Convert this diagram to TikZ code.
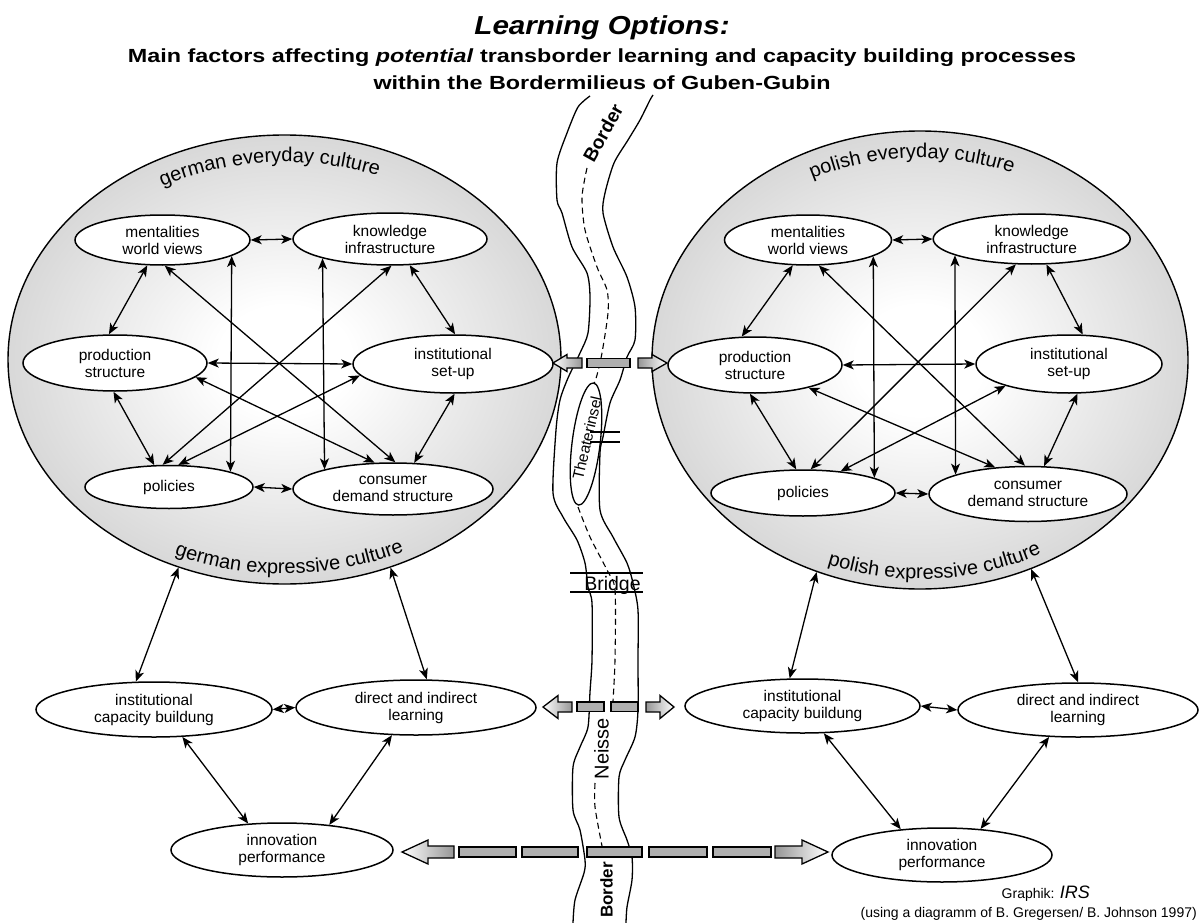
\documentclass[tikz,border=0pt]{standalone}
\usepackage{fontspec}
\setmainfont{Liberation Sans}
\newfontfamily\titlefam[FakeStretch=1.14]{Liberation Sans}
\newfontfamily\subfam[FakeStretch=1.23]{Liberation Sans}
\usetikzlibrary{shapes.geometric,arrows.meta,decorations.text}
\definecolor{shgray}{RGB}{198,198,198}
\definecolor{bargray}{RGB}{175,175,175}
\definecolor{arrgray}{RGB}{150,150,150}
\pgfdeclareradialshading{circshade}{\pgfpoint{0bp}{0bp}}{color(0bp)=(white); color(6bp)=(white); color(34bp)=(shgray); color(50bp)=(shgray)}
\newcommand\nodefont{\fontsize{15.5}{17}\selectfont}
\newcommand\culfont{\fontsize{20}{20}\selectfont}
\begin{document}
\begin{tikzpicture}[x=1pt,y=-1pt,
  fac/.style={ellipse, draw, fill=white, line width=1.5pt, inner sep=0pt, align=center, font=\nodefont},
  milieu/.style={ellipse, draw, line width=1.4pt, shade, shading=circshade, inner sep=0pt},
  arr/.style={line width=1.3pt, {Stealth[length=11pt,width=9pt,inset=3pt]}-{Stealth[length=11pt,width=9pt,inset=3pt]}},
  bank/.style={line width=1.3pt},
  borderline/.style={line width=1.1pt, dash pattern=on 6pt off 4pt},
  barbox/.style={draw, line width=1.3pt, fill=bargray},
  blockL/.style={draw, line width=1.3pt, left color=white, right color=arrgray},
  blockR/.style={draw, line width=1.3pt, left color=arrgray, right color=white},
  culture/.style={decorate, decoration={text along path, text align=center, text={|\culfont|#1}}}
]
\fill[white] (0,0) rectangle (1202,923);
\useasboundingbox (0,0) rectangle (1202,923);

% titles
\node[anchor=base, font=\titlefam\bfseries\itshape\fontsize{26}{26}\selectfont] (title) at (602,35) {Learning Options:};
\node[anchor=base, font=\subfam\bfseries\fontsize{19}{19}\selectfont] (sub1) at (602,63) {Main factors affecting \textit{potential} transborder learning and capacity building processes};
\node[anchor=base, font=\subfam\bfseries\fontsize{19}{19}\selectfont] (sub2) at (602,90) {within the Bordermilieus of Guben-Gubin};

% milieus
\node[milieu, minimum width=553, minimum height=449] (G) at (284.5,359.5) {};
\node[milieu, minimum width=536, minimum height=458] (P) at (920,360) {};

\path[culture={german everyday culture}] (110.4,216.9) arc[start angle=-133.8, end angle=-53.8, x radius=251.5, y radius=197.5];
\path[culture={german expressive culture}] (99,514) arc[start angle=133.8, end angle=43.8, x radius=268, y radius=214];
\path[culture={polish everyday culture}] (757.1,210.1) arc[start angle=-132.1, end angle=-52.1, x radius=243, y radius=202];
\path[culture={polish expressive culture}] (748.4,524.5) arc[start angle=131.3, end angle=41.3, x radius=260, y radius=219];

% river
\draw[bank] plot[smooth, tension=0.45] coordinates {(590,96) (578,107) (567,133) (557,163) (557,200) (562,213) (572,247) (587,273) (590,297) (588,333) (580,353) (568,378) (560,400) (556,430) (553,493) (563,517) (577,540) (585,563) (588,587) (592,603) (592,660) (590,692) (588,727) (580,747) (573,767) (573,810) (580,830) (585,860) (584,873) (575,900) (573,923)};
\draw[bank] plot[smooth, tension=0.45] coordinates {(653,95) (650,100) (640,120) (628,140) (614,163) (605,193) (603,213) (613,247) (627,277) (635,307) (635,340) (627,357) (620,380) (610,403) (603,437) (600,453) (600,510) (613,537) (627,563) (633,583) (638,610) (638,660) (638,710) (635,737) (625,760) (619,777) (619,817) (627,840) (632,857) (632,880) (627,907) (626,923)};
\draw[borderline] plot[smooth, tension=0.45] coordinates {(587,168) (582,197) (585,230) (597,267) (607,290) (608,313) (602,353) (597,375) (594,384)};
\draw[borderline] plot[smooth, tension=0.45] coordinates {(578,507) (590,537) (607,570) (615,590) (615,660) (613,701)};
\draw[borderline] plot[smooth, tension=0.45] coordinates {(595,783) (595,807) (602,846)};

\node[rotate=61, font=\bfseries\fontsize{19}{19}\selectfont] (border1) at (603,133) {Border};
\node[rotate=90, font=\bfseries\fontsize{17}{17}\selectfont] (border2) at (606.5,890) {Border};
\node[rotate=90, font=\fontsize{20}{20}\selectfont] (neisse) at (601.5,748.5) {Neisse};

% Theaterinsel
\draw[line width=1.3pt, rotate around={83:(586,444)}] (586,444) ellipse [x radius=61.5, y radius=14];
\node[rotate=77, font=\nodefont] (insel) at (587,438) {Theaterinsel};
\draw[line width=1.2pt] (590,432) -- (620,432);
\draw[line width=1.2pt] (590,442) -- (620,442);

% Bridge
\draw[line width=1.2pt] (570,573) -- (643,573);
\draw[line width=1.2pt] (570,592) -- (643,592);
\node[anchor=base, font=\fontsize{19.5}{19.5}\selectfont, inner sep=0pt] (bridge) at (612.5,590.5) {Bridge};

% block arrows row 1
\path[blockL] (553,363) -- (567,354.5) -- (567,358) -- (582,358) -- (582,368) -- (567,368) -- (567,371.5) -- cycle;
\path[barbox] (587,358.5) rectangle (630,367.5);
\path[blockR] (638,358) -- (652,358) -- (652,354.5) -- (667,363) -- (652,371.5) -- (652,368) -- (638,368) -- cycle;
% row 2
\path[blockL] (543,707) -- (558,695.5) -- (558,702) -- (572,702) -- (572,712) -- (558,712) -- (558,718.5) -- cycle;
\path[barbox] (577,702) rectangle (604,711.5);
\path[barbox] (611,702) rectangle (638,711.5);
\path[blockR] (646,702) -- (660,702) -- (660,695.5) -- (674,707) -- (660,718.5) -- (660,712) -- (646,712) -- cycle;
% row 3
\path[blockL] (402,852) -- (428,840) -- (428,846) -- (454,846) -- (454,858) -- (428,858) -- (428,864) -- cycle;
\path[barbox] (459,847) rectangle (516,857);
\path[barbox] (522,847) rectangle (578,857);
\path[barbox] (587,847) rectangle (642,857);
\path[barbox] (649,847) rectangle (707,857);
\path[barbox] (713,847) rectangle (771,857);
\path[blockR] (775,846) -- (802,846) -- (802,840) -- (828,852) -- (802,864) -- (802,858) -- (775,858) -- cycle;

% left factor nodes
\node[fac, minimum width=175, minimum height=50] (m1) at (162.5,240) {mentalities\\world views};
\node[fac, minimum width=194, minimum height=52] (k1) at (390,239) {knowledge\\infrastructure};
\node[fac, minimum width=184, minimum height=56] (p1) at (115,363) {production\\structure};
\node[fac, minimum width=200, minimum height=58] (i1) at (453,364) {institutional\\set-up};
\node[fac, minimum width=168, minimum height=43] (po1) at (169,487) {policies};
\node[fac, minimum width=200, minimum height=52] (c1) at (393,489) {consumer\\demand structure};
% right factor nodes
\node[fac, minimum width=167, minimum height=50] (m2) at (808,240) {mentalities\\world views};
\node[fac, minimum width=197, minimum height=50] (k2) at (1031.7,239) {knowledge\\infrastructure};
\node[fac, minimum width=174, minimum height=56] (p2) at (755,365) {production\\structure};
\node[fac, minimum width=186, minimum height=58] (i2) at (1069,364) {institutional\\set-up};
\node[fac, minimum width=184, minimum height=46] (po2) at (803,493) {policies};
\node[fac, minimum width=198, minimum height=55] (c2) at (1028,494) {consumer\\demand structure};
% bottom nodes
\node[fac, minimum width=236, minimum height=55] (ic1) at (154,709.5) {institutional\\capacity buildung};
\node[fac, minimum width=240, minimum height=55] (dl1) at (416,707.5) {direct and indirect\\learning};
\node[fac, minimum width=222, minimum height=54] (ip1) at (282,850) {innovation\\performance};
\node[fac, minimum width=235, minimum height=54] (ic2) at (802.5,706) {institutional\\capacity buildung};
\node[fac, minimum width=240, minimum height=54] (dl2) at (1078,710) {direct and indirect\\learning};
\node[fac, minimum width=220, minimum height=54] (ip2) at (942,855) {innovation\\performance};

% left connectors
\draw[arr] (m1.east) -- (k1.west);
\draw[arr] (m1.239.4) -- (p1.102.1);
\draw[arr] (m1.-13.6) -- (po1.14);
\draw[arr] (m1.275.7) -- (c1.85.8);
\draw[arr] (k1.196.1) -- (c1.164.8);
\draw[arr] (k1.273.7) -- (po1.106.1);
\draw[arr] (k1.307.6) -- (i1.86.5);
\draw[arr] (p1.east) -- (i1.west);
\draw[arr] (p1.-10.8) -- (c1.125);
\draw[arr] (i1.187.6) -- (po1.67.8);
\draw[arr] (p1.267.1) -- (po1.124.4);
\draw[arr] (i1.273.3) -- (c1.51.1);
\draw[arr] (po1.east) -- (c1.west);
% right connectors
\draw[arr] (m2.east) -- (k2.west);
\draw[arr] (m2.239.2) -- (p2.115.5);
\draw[arr] (m2.-14.1) -- (po2.12.6);
\draw[arr] (m2.293) -- (c2.96.7);
\draw[arr] (k2.192.2) -- (c2.165);
\draw[arr] (k2.238.9) -- (po2.72.7);
\draw[arr] (k2.300) -- (i2.65);
\draw[arr] (p2.east) -- (i2.west);
\draw[arr] (p2.-23.2) -- (c2.141);
\draw[arr] (i2.199.4) -- (po2.30.5);
\draw[arr] (p2.260.5) -- (po2.106.9);
\draw[arr] (i2.286.7) -- (c2.60.7);
\draw[arr] (po2.east) -- (c2.west);
% bottom connectors
\draw[arr] (G.243.4) -- (ic1.123.2);
\draw[arr] (G.-63.2) -- (dl1.69.5);
\draw[arr] (ic1.east) -- (dl1.west);
\draw[arr] (ic1.-44.5) -- (ip1.142.4);
\draw[arr] (dl1.229.7) -- (ip1.28.9);
\draw[arr] (P.244) -- (ic2.115);
\draw[arr] (P.-62.9) -- (dl2.90);
\draw[arr] (ic2.east) -- (dl2.west);
\draw[arr] (ic2.-52.8) -- (ip2.148);
\draw[arr] (dl2.223) -- (ip2.34.8);

% credits
\node[anchor=base east, font=\fontsize{14}{14}\selectfont, inner sep=0pt] (graphik) at (1090,898) {Graphik: {\fontsize{18}{18}\selectfont\itshape IRS}};
\node[anchor=base east, font=\fontsize{14}{14}\selectfont, inner sep=0pt] (using) at (1197,917) {(using a diagramm of B. Gregersen/ B. Johnson 1997)};
\end{tikzpicture}
\end{document}
